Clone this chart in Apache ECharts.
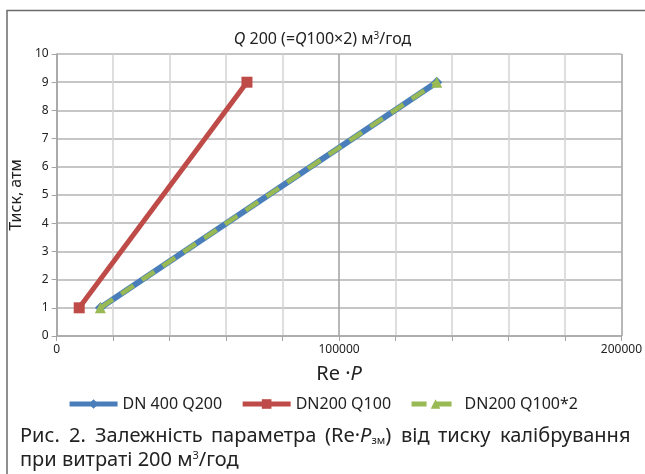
<!DOCTYPE html>
<html>
<head>
<meta charset="utf-8">
<script src="https://cdn.jsdelivr.net/npm/echarts@6/dist/echarts.min.js"></script>
<style>
  html, body { margin: 0; padding: 0; background: #fff; }
  #chart { width: 645px; height: 474px; }
</style>
</head>
<body>
<div id="chart"></div>
<script>
// values
const seriesNames = ['DN 400 Q200', 'DN200 Q100', 'DN200 Q100*2'];
const blueX = [15500, 134600];
const blueY = [1, 9];
const redX = [8000, 67400];
const redY = [1, 9];
const greenX = [15500, 134600];
const greenY = [1, 9];

const xTicks = { min: 0, max: 200000, interval: 100000 };
const yTicks = { min: 0, max: 10, interval: 1 };

// caption, first line is justified word by word
const captionWords = ['Рис.', '2.', 'Залежність', 'параметра', '(Re·{i|P}{sub|зм})', 'від', 'тиску', 'калібрування'];
const captionLine2 = 'при витраті 200 м{sup|3}/год';

const pairs = (xs, ys) => xs.map((x, i) => [x, ys[i]]);

const font = '"Noto Sans", "Open Sans", sans-serif';
const capSize = 20;
const capLeft = 20, capRight = 630;

const capRich = {
  i: { fontStyle: 'italic', fontSize: capSize, fontFamily: font, fill: '#222' },
  sub: { fontSize: 11, fontFamily: font, verticalAlign: 'bottom', padding: [9, 0, 0, 0], fill: '#222' },
  sup: { fontSize: 11, fontFamily: font, verticalAlign: 'top', padding: [0, 0, 9, 0], fill: '#222' }
};

// measure words to spread them over the caption width
const ctx = document.createElement('canvas').getContext('2d');
function measure(word) {
  let w = 0;
  word.split(/(\{\w+\|[^}]*\})/).forEach(part => {
    if (!part) return;
    const m = part.match(/^\{(\w+)\|([^}]*)\}$/);
    if (m) {
      const st = capRich[m[1]];
      ctx.font = (st.fontStyle || 'normal') + ' ' + st.fontSize + 'px ' + font;
      w += ctx.measureText(m[2]).width;
    } else {
      ctx.font = capSize + 'px ' + font;
      w += ctx.measureText(part).width;
    }
  });
  return w;
}
const widths = captionWords.map(measure);
const totalW = widths.reduce((a, b) => a + b, 0);
const gap = (capRight - capLeft - totalW) / (captionWords.length - 1);
let cx = capLeft;
const captionItems = captionWords.map((wd, k) => {
  const el = {
    type: 'text',
    left: Math.round(cx),
    top: 426,
    style: { text: wd, fontFamily: font, fontSize: capSize, fill: '#222', rich: capRich }
  };
  cx += widths[k] + gap;
  return el;
});

const chart = echarts.init(document.getElementById('chart'));

chart.setOption({
  backgroundColor: '#fff',
  animation: false,
  title: {
    text: '{i|Q} 200 (={i|Q}100×2) м{s|3}/год',
    left: 'center',
    top: 26,
    textStyle: {
      fontFamily: font,
      fontSize: 16,
      fontWeight: 'normal',
      color: '#222',
      rich: {
        i: { fontStyle: 'italic', fontSize: 16, fontFamily: font, color: '#222' },
        s: { fontSize: 10, verticalAlign: 'top', fontFamily: font, color: '#222', padding: [0, 0, 7, 0] }
      }
    }
  },
  grid: { left: 52, right: 18, top: 54, bottom: 138, containLabel: false },
  xAxis: {
    type: 'value',
    min: xTicks.min,
    max: xTicks.max,
    interval: xTicks.interval,
    name: '{n|Re ·}{i|P}',
    nameLocation: 'middle',
    nameGap: 28,
    nameTextStyle: {
      rich: {
        n: { fontSize: 20, fontFamily: font, color: '#222' },
        i: { fontSize: 20, fontStyle: 'italic', fontFamily: font, color: '#222' }
      }
    },
    axisLine: { show: true, lineStyle: { color: '#a6a6a6', width: 1.5 } },
    axisTick: { show: true, length: 5, lineStyle: { color: '#a6a6a6' } },
    minorTick: { show: true, splitNumber: 5, length: 5, lineStyle: { color: '#a6a6a6' } },
    axisLabel: { fontFamily: font, fontSize: 12, color: '#222', margin: 8, formatter: v => String(v) },
    splitLine: { show: true, lineStyle: { color: '#a0a0a0', width: 1.5 } },
    minorSplitLine: { show: true, lineStyle: { color: '#d4d4d4', width: 1.5 } }
  },
  yAxis: {
    type: 'value',
    min: yTicks.min,
    max: yTicks.max,
    interval: yTicks.interval,
    name: 'Тиск, атм',
    nameLocation: 'middle',
    nameGap: 30,
    nameRotate: 90,
    nameTextStyle: { fontFamily: font, fontSize: 16, color: '#222' },
    axisLine: { show: true, lineStyle: { color: '#a6a6a6', width: 1.5 } },
    axisTick: { show: true, length: 5, lineStyle: { color: '#a6a6a6' } },
    axisLabel: { fontFamily: font, fontSize: 12, color: '#222', margin: 8 },
    splitLine: { show: true, lineStyle: { color: '#b3b3b3', width: 1.5 } }
  },
  legend: {
    top: 391,
    left: 'center',
    itemWidth: 48,
    itemHeight: 12,
    itemGap: 18,
    textStyle: { fontFamily: font, fontSize: 16, color: '#222' },
    data: [
      { name: seriesNames[0], lineStyle: { width: 5 } },
      { name: seriesNames[1], lineStyle: { width: 5 } },
      { name: seriesNames[2], lineStyle: { width: 5 } }
    ]
  },
  series: [
    {
      name: seriesNames[0],
      type: 'line',
      data: pairs(blueX, blueY),
      symbol: 'diamond',
      symbolSize: 11,
      lineStyle: { color: '#4a7ebb', width: 6 },
      itemStyle: { color: '#4a7ebb' },
      z: 2
    },
    {
      name: seriesNames[1],
      type: 'line',
      data: pairs(redX, redY),
      symbol: 'rect',
      symbolSize: 11,
      lineStyle: { color: '#be4b48', width: 5 },
      itemStyle: { color: '#be4b48' },
      z: 3
    },
    {
      name: seriesNames[2],
      type: 'line',
      data: pairs(greenX, greenY),
      symbol: 'triangle',
      symbolSize: 11,
      lineStyle: { color: '#98b954', width: 4.5, type: [15, 10] },
      itemStyle: { color: '#98b954' },
      z: 4
    }
  ],
  graphic: [
    {
      type: 'polyline',
      shape: { points: [[7, 474], [7, 10.5], [645, 10.5]] },
      style: { stroke: '#6b6b6b', lineWidth: 1.5, fill: null },
      silent: true
    },
    ...captionItems,
    {
      type: 'text',
      left: capLeft,
      top: 450,
      style: { text: captionLine2, fontFamily: font, fontSize: capSize, fill: '#222', rich: capRich }
    }
  ]
});
</script>
</body>
</html>
